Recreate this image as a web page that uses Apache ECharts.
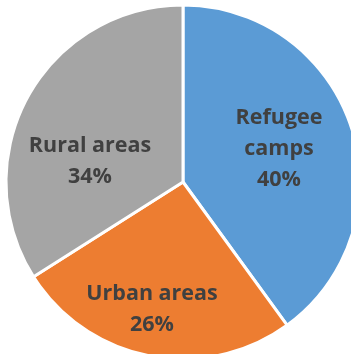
<!DOCTYPE html>
<html>
<head>
<meta charset="utf-8">
<script src="https://cdn.jsdelivr.net/npm/echarts@6/dist/echarts.min.js"></script>
<style>
html,body{margin:0;padding:0;background:#fff;}
#chart{width:351px;height:354px;}
</style>
</head>
<body>
<div id="chart"></div>
<script>
var categories = ['Refugee camps', 'Urban areas', 'Rural areas'];
var labelText = ['Refugee\ncamps', 'Urban areas', 'Rural areas'];
var values = [40, 26, 34];
var colors = ['#5B9BD5', '#ED7D31', '#A5A5A5'];
var labelPos = [[279, 149], [152, 309], [90, 161]];

var chart = echarts.init(document.getElementById('chart'), null, {renderer: 'canvas'});
chart.setOption({
  animation: false,
  series: [{
    type: 'pie',
    center: [183, 182],
    radius: [0, 177],
    startAngle: 90,
    clockwise: true,
    data: categories.map(function (c, i) {
      return {name: c, value: values[i], itemStyle: {color: colors[i]}};
    }),
    itemStyle: {borderColor: '#fff', borderWidth: 3},
    label: {
      show: true,
      position: 'inside',
      formatter: function (p) { return labelText[p.dataIndex] + '\n' + p.value + '%'; },
      color: '#404040',
      fontFamily: 'Open Sans',
      fontWeight: 'bold',
      fontSize: 21.5,
      lineHeight: 31,
      align: 'center'
    },
    labelLine: {show: false},
    labelLayout: function (params) {
      var p = labelPos[params.dataIndex];
      return {x: p[0], y: p[1], align: 'center', verticalAlign: 'middle'};
    },
    emphasis: {disabled: true}
  }]
});
</script>
</body>
</html>
